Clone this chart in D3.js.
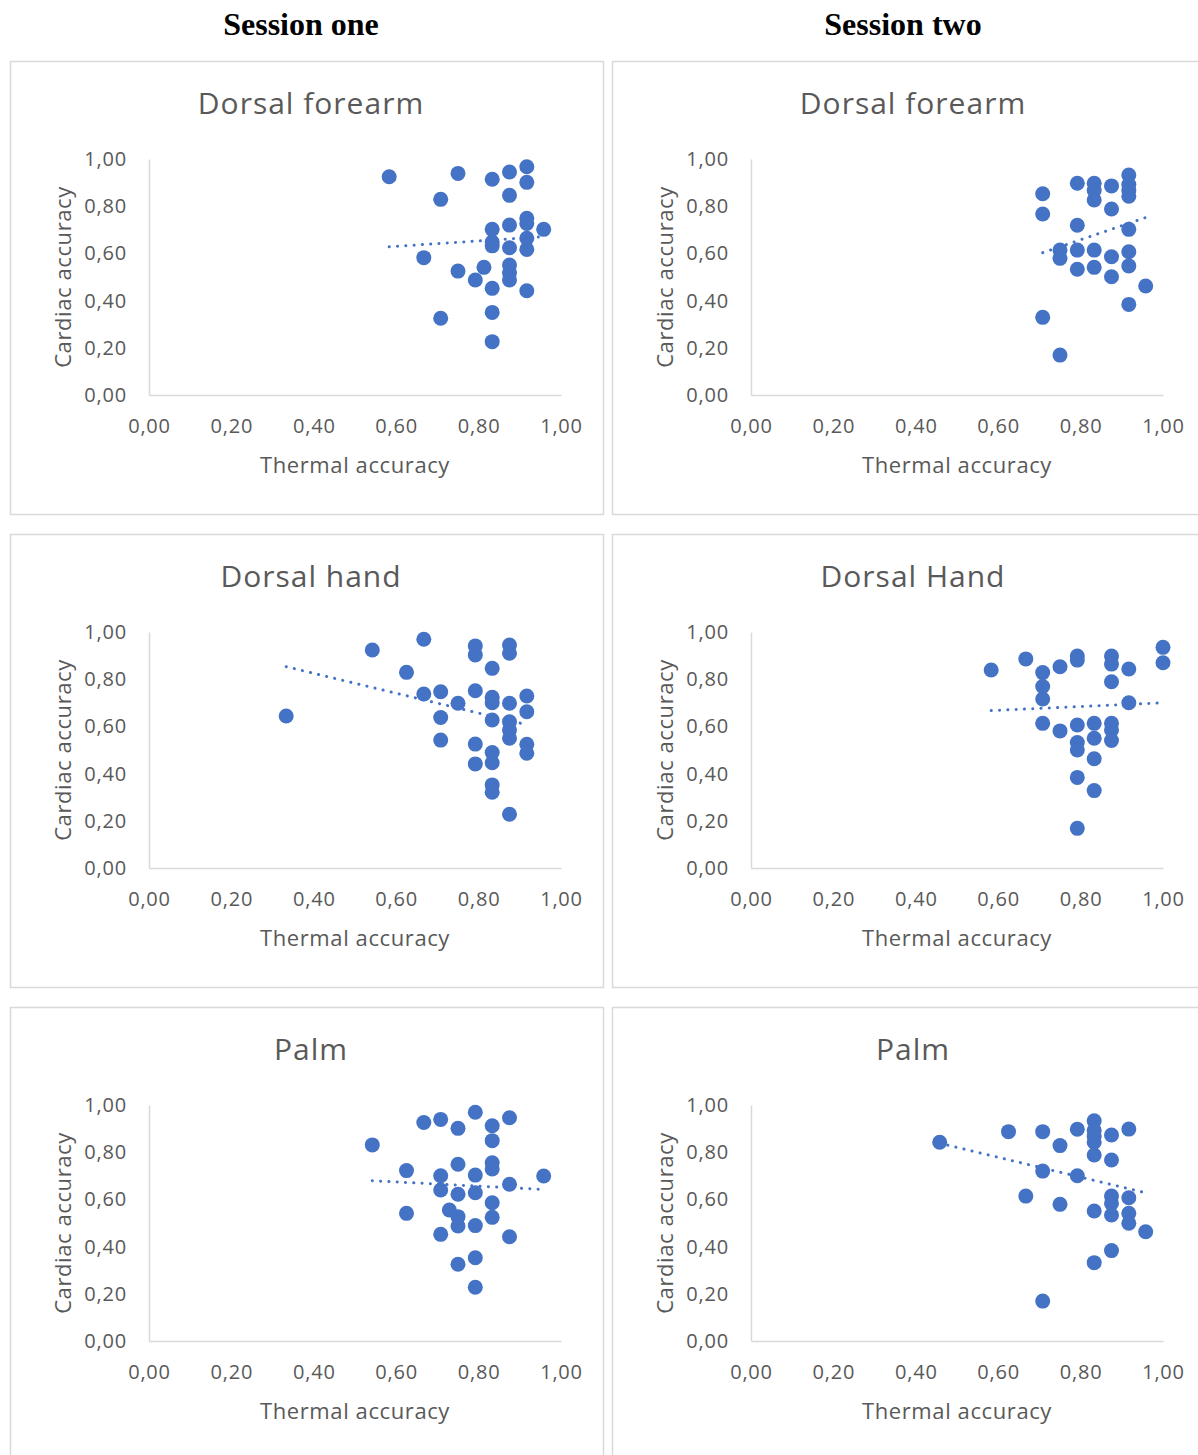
<!DOCTYPE html>
<html>
<head>
<meta charset="utf-8">
<script src="https://cdn.jsdelivr.net/npm/d3@7"></script>
<style>
  body { margin: 0; background: #fff; }
  svg { display: block; }
</style>
</head>
<body>
<svg id="canvas" width="1198" height="1455"></svg>
<script>
// column headers and chart titles
let sessions = ['Session one', 'Session two']
let titles = [['Dorsal forearm', 'Dorsal forearm'], ['Dorsal hand', 'Dorsal Hand'], ['Palm', 'Palm']]
let ticks = [0, 0.2, 0.4, 0.6, 0.8, 1]

// points: [thermal accuracy, cardiac accuracy]
let forearmOne = [
  [0.583, 0.925], [0.75, 0.939], [0.708, 0.829], [0.833, 0.914], [0.875, 0.945], [0.917, 0.967],
  [0.917, 0.901], [0.875, 0.846], [0.917, 0.749], [0.917, 0.727], [0.875, 0.72], [0.833, 0.702],
  [0.958, 0.702], [0.833, 0.648], [0.833, 0.632], [0.917, 0.664], [0.917, 0.617], [0.875, 0.624],
  [0.667, 0.582], [0.75, 0.525], [0.813, 0.541], [0.792, 0.487], [0.875, 0.551], [0.875, 0.518],
  [0.875, 0.487], [0.833, 0.452], [0.917, 0.442], [0.708, 0.325], [0.833, 0.35], [0.833, 0.226]
]
let forearmTwo = [
  [0.708, 0.853], [0.708, 0.767], [0.708, 0.329], [0.75, 0.169], [0.75, 0.614], [0.75, 0.579],
  [0.792, 0.897], [0.792, 0.719], [0.792, 0.614], [0.792, 0.533], [0.833, 0.897], [0.833, 0.866],
  [0.833, 0.826], [0.833, 0.614], [0.833, 0.541], [0.875, 0.886], [0.875, 0.788], [0.875, 0.586],
  [0.875, 0.501], [0.917, 0.932], [0.917, 0.892], [0.917, 0.866], [0.917, 0.842], [0.917, 0.702],
  [0.917, 0.607], [0.917, 0.547], [0.917, 0.384], [0.958, 0.462]
]
let handOne = [
  [0.333, 0.644], [0.542, 0.924], [0.667, 0.969], [0.625, 0.829], [0.667, 0.737], [0.708, 0.747],
  [0.75, 0.698], [0.708, 0.638], [0.708, 0.542], [0.792, 0.941], [0.792, 0.903], [0.792, 0.751],
  [0.792, 0.525], [0.792, 0.441], [0.833, 0.846], [0.833, 0.723], [0.833, 0.70], [0.833, 0.627],
  [0.833, 0.489], [0.833, 0.446], [0.833, 0.352], [0.833, 0.321], [0.875, 0.945], [0.875, 0.91],
  [0.875, 0.698], [0.875, 0.62], [0.875, 0.585], [0.875, 0.55], [0.875, 0.228], [0.917, 0.729],
  [0.917, 0.662], [0.917, 0.524], [0.917, 0.486]
]
let handTwo = [
  [0.583, 0.839], [0.667, 0.886], [0.708, 0.828], [0.708, 0.769], [0.708, 0.716], [0.708, 0.613],
  [0.75, 0.853], [0.75, 0.581], [0.792, 0.898], [0.792, 0.881], [0.792, 0.606], [0.792, 0.532],
  [0.792, 0.50], [0.792, 0.384], [0.792, 0.168], [0.833, 0.613], [0.833, 0.55], [0.833, 0.463],
  [0.833, 0.328], [0.875, 0.898], [0.875, 0.864], [0.875, 0.789], [0.875, 0.613], [0.875, 0.585],
  [0.875, 0.54], [0.917, 0.843], [0.917, 0.70], [1.0, 0.935], [1.0, 0.87]
]
let palmOne = [
  [0.542, 0.831], [0.625, 0.722], [0.625, 0.541], [0.667, 0.926], [0.708, 0.939], [0.708, 0.70],
  [0.708, 0.64], [0.708, 0.452], [0.75, 0.901], [0.75, 0.749], [0.75, 0.622], [0.729, 0.555],
  [0.75, 0.527], [0.75, 0.487], [0.75, 0.325], [0.792, 0.969], [0.792, 0.703], [0.792, 0.628],
  [0.792, 0.489], [0.792, 0.353], [0.792, 0.228], [0.833, 0.912], [0.833, 0.849], [0.833, 0.755],
  [0.833, 0.729], [0.833, 0.586], [0.833, 0.524], [0.875, 0.946], [0.875, 0.664], [0.875, 0.442],
  [0.958, 0.699]
]
let palmTwo = [
  [0.458, 0.842], [0.625, 0.887], [0.667, 0.614], [0.708, 0.887], [0.708, 0.72], [0.708, 0.169],
  [0.75, 0.828], [0.75, 0.579], [0.792, 0.897], [0.792, 0.70], [0.833, 0.933], [0.833, 0.893],
  [0.833, 0.866], [0.833, 0.842], [0.833, 0.788], [0.833, 0.551], [0.833, 0.332], [0.875, 0.873],
  [0.875, 0.767], [0.875, 0.614], [0.875, 0.583], [0.875, 0.534], [0.875, 0.383], [0.917, 0.898],
  [0.917, 0.607], [0.917, 0.541], [0.917, 0.499], [0.958, 0.463]
]
let panels = [[forearmOne, forearmTwo], [handOne, handTwo], [palmOne, palmTwo]]

// linear trendline ends: [[x0, y0], [x1, y1]]
let trendForearmOne = [[0.583, 0.628], [0.958, 0.671]]
let trendForearmTwo = [[0.708, 0.603], [0.958, 0.752]]
let trendHandOne = [[0.333, 0.853], [0.917, 0.607]]
let trendHandTwo = [[0.583, 0.667], [1.0, 0.700]]
let trendPalmOne = [[0.542, 0.679], [0.958, 0.642]]
let trendPalmTwo = [[0.458, 0.838], [0.958, 0.628]]
let trends = [[trendForearmOne, trendForearmTwo], [trendHandOne, trendHandTwo], [trendPalmOne, trendPalmTwo]]

let svg = d3.select('#canvas')
let fmt = d3.formatLocale({decimal: ',', thousands: '.', grouping: [3], currency: ['', '']}).format('.2f')
let font = '"Open Sans", Lato, sans-serif'
let grey = '#595959'

svg.selectAll('text.session')
   .data(sessions)
   .enter()
   .append('text')
   .attr('class', 'session')
   .attr('x', (d, i) => 301 + i * 602)
   .attr('y', 35)
   .attr('text-anchor', 'middle')
   .style('font-family', '"Liberation Serif", "Times New Roman", serif')
   .style('font-weight', 'bold')
   .style('font-size', '32px')
   .text(d => d)

let drawPanel = (pts, line, title, px, py) => {
  let g = svg.append('g').attr('transform', 'translate(' + px + ',' + py + ')')

  g.append('rect')
   .attr('x', 0.5).attr('y', 0.5)
   .attr('width', 593).attr('height', 453)
   .attr('fill', '#fff')
   .attr('stroke', '#d9d9d9')
   .attr('stroke-width', 1.5)

  let x = d3.scaleLinear().domain([0, 1]).range([139, 551])
  let y = d3.scaleLinear().domain([0, 1]).range([334, 98])

  g.append('text')
   .attr('x', 301).attr('y', 53)
   .attr('text-anchor', 'middle')
   .style('font-family', font).style('font-size', '30px')
   .style('letter-spacing', '1px')
   .attr('fill', grey)
   .text(title)

  let xAxis = g.append('g')
               .attr('transform', 'translate(0,' + y(0) + ')')
               .call(d3.axisBottom(x).tickValues(ticks).tickFormat(fmt).tickSize(0).tickPadding(24))
  let yAxis = g.append('g')
               .attr('transform', 'translate(' + x(0) + ',0)')
               .call(d3.axisLeft(y).tickValues(ticks).tickFormat(fmt).tickSize(0).tickPadding(22))
  ;[xAxis, yAxis].forEach(a => {
    a.select('.domain').attr('stroke', '#d9d9d9').attr('stroke-width', 1.5)
    a.selectAll('text').style('font-family', font).style('font-size', '20px')
     .style('letter-spacing', '0.8px').attr('fill', grey)
  })

  g.append('text')
   .attr('x', (x(0) + x(1)) / 2).attr('y', y(0) + 78)
   .attr('text-anchor', 'middle')
   .style('font-family', font).style('font-size', '22px')
   .style('letter-spacing', '0.6px')
   .attr('fill', grey)
   .text('Thermal accuracy')

  g.append('text')
   .attr('transform', 'translate(' + (x(0) - 78) + ',' + ((y(0) + y(1)) / 2) + ') rotate(-90)')
   .attr('text-anchor', 'middle')
   .style('font-family', font).style('font-size', '22px')
   .style('letter-spacing', '0.6px')
   .attr('fill', grey)
   .text('Cardiac accuracy')

  g.selectAll('circle')
   .data(pts)
   .enter()
   .append('circle')
   .attr('cx', d => x(d[0]))
   .attr('cy', d => y(d[1]))
   .attr('r', 7.5)
   .attr('fill', '#4472c4')

  g.append('path')
   .attr('d', d3.line().x(d => x(d[0])).y(d => y(d[1]))(line))
   .attr('fill', 'none')
   .attr('stroke', '#4472c4')
   .attr('stroke-width', 3)
   .attr('stroke-linecap', 'round')
   .attr('stroke-dasharray', '0.1 8.2')
}

panels.forEach((row, r) => {
  row.forEach((pts, c) => {
    drawPanel(pts, trends[r][c], titles[r][c], 10 + c * 602, 61 + r * 473)
  })
})
</script>
</body>
</html>
